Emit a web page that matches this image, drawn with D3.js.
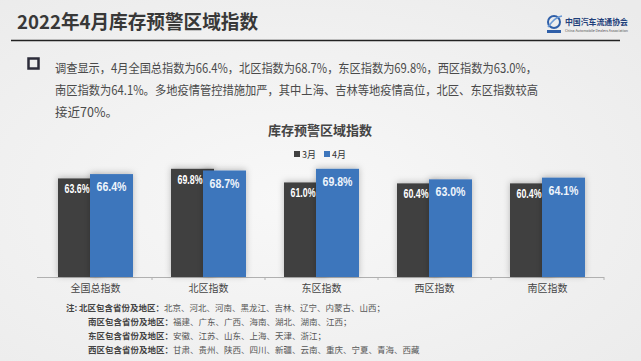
<!DOCTYPE html>
<html>
<head>
<meta charset="utf-8">
<script src="https://cdn.jsdelivr.net/npm/d3@7"></script>
<style>
  body { margin: 0; background: #f2f2f2; }
  svg { display: block; font-family: "Noto Sans CJK SC", "Noto Sans", sans-serif; }
</style>
</head>
<body>
<div id="container"></div>
<script>
const regions = ["全国总指数", "北区指数", "东区指数", "西区指数", "南区指数"];
const march = [63.6, 69.8, 61.0, 60.4, 60.4];
const april = [66.4, 68.7, 69.8, 63.0, 64.1];
const seriesNames = ["3月", "4月"];
const seriesColors = ["#414141", "#3e76bc"];

const introLines = [
  "调查显示，4月全国总指数为66.4%，北区指数为68.7%，东区指数为69.8%，西区指数为63.0%，",
  "南区指数为64.1%。多地疫情管控措施加严，其中上海、吉林等地疫情高位，北区、东区指数较高",
  "接近70%。"
];
const notes = [
  ["北区包含省份及地区：", "北京、河北、河南、黑龙江、吉林、辽宁、内蒙古、山西；"],
  ["南区包含省份及地区：", "福建、广东、广西、海南、湖北、湖南、江西；"],
  ["东区包含省份及地区：", "安徽、江苏、山东、上海、天津、浙江；"],
  ["西区包含省份及地区：", "甘肃、贵州、陕西、四川、新疆、云南、重庆、宁夏、青海、西藏"]
];

const w = 641;
const h = 361;
const svg = d3.select("#container")
  .append("svg")
  .attr("width", w)
  .attr("height", h);

// background with soft gradient
const defs = svg.append("defs");
const bg = defs.append("radialGradient").attr("id", "bg")
  .attr("cx", "45%").attr("cy", "55%").attr("r", "75%");
bg.append("stop").attr("offset", "0%").attr("stop-color", "#f8f8f8");
bg.append("stop").attr("offset", "100%").attr("stop-color", "#ebebeb");
svg.append("rect").attr("width", w).attr("height", h).attr("fill", "url(#bg)");

const shadow = defs.append("filter").attr("id", "shadow")
  .attr("x", "-30%").attr("y", "-30%").attr("width", "160%").attr("height", "160%");
shadow.append("feDropShadow").attr("dx", 0).attr("dy", -1)
  .attr("stdDeviation", 3).attr("flood-color", "#000").attr("flood-opacity", 0.25);

// header
svg.append("text")
  .attr("x", 17).attr("y", 29)
  .attr("font-size", 19).attr("font-weight", "bold").attr("fill", "#383838")
  .attr("textLength", 241).attr("lengthAdjust", "spacingAndGlyphs")
  .text("2022年4月库存预警区域指数");
svg.append("line")
  .attr("x1", 11).attr("x2", 620).attr("y1", 40.5).attr("y2", 40.5)
  .attr("stroke", "#222").attr("stroke-width", 1.5);

// logo
const logo = svg.append("g").attr("transform", "translate(546,15)");
logo.append("ellipse").attr("cx", 8).attr("cy", 7).attr("rx", 6).attr("ry", 6)
  .attr("fill", "none").attr("stroke", "#2f5fa8").attr("stroke-width", 2);
logo.append("path").attr("d", "M2,12 Q9,2 16,1").attr("fill", "none")
  .attr("stroke", "#6b9ad6").attr("stroke-width", 1.5);
logo.append("rect").attr("x", 1).attr("y", 15).attr("width", 14).attr("height", 3).attr("fill", "#2f5fa8");
logo.append("text").attr("x", 19).attr("y", 10)
  .attr("font-size", 8.5).attr("font-weight", "bold").attr("fill", "#1f3f7a")
  .attr("textLength", 63).attr("lengthAdjust", "spacingAndGlyphs")
  .text("中国汽车流通协会");
logo.append("text").attr("x", 19).attr("y", 17)
  .attr("font-size", 3.6).attr("fill", "#555")
  .attr("textLength", 63).attr("lengthAdjust", "spacingAndGlyphs")
  .text("China Automobile Dealers Association");

// intro paragraph
svg.append("rect")
  .attr("x", 28.5).attr("y", 58.5).attr("width", 10).attr("height", 10)
  .attr("fill", "none").attr("stroke", "#2c2c3a").attr("stroke-width", 2.5);
const introLen = [482, 483, null];
svg.append("g").selectAll("text")
  .data(introLines)
  .enter()
  .append("text")
  .attr("x", 55)
  .attr("y", (d, i) => 73 + i * 22)
  .attr("font-size", 12.5).attr("fill", "#4a4a4a")
  .each(function (d, i) {
    if (introLen[i]) d3.select(this).attr("textLength", introLen[i]).attr("lengthAdjust", "spacingAndGlyphs");
  })
  .text((d) => d);

// chart title & legend
svg.append("text")
  .attr("x", 320).attr("y", 135).attr("text-anchor", "middle")
  .attr("font-size", 13).attr("font-weight", "bold").attr("fill", "#444")
  .text("库存预警区域指数");

const legend = svg.append("g").selectAll("g")
  .data(seriesNames)
  .enter()
  .append("g")
  .attr("transform", (d, i) => "translate(" + (294 + i * 30) + ",150)");
legend.append("rect").attr("width", 6).attr("height", 6).attr("y", 1)
  .attr("fill", (d, i) => seriesColors[i]);
legend.append("text").attr("x", 8).attr("y", 8)
  .attr("font-size", 9).attr("fill", "#333").text((d) => d);

// scales
const xScale = d3.scaleBand()
  .domain(regions)
  .range([39, 604]);

const yScale = d3.scaleLinear()
  .domain([0, 80])
  .range([277, 153]);

const barW = 43;
const overlap = 11;
const groupW = barW * 2 - overlap;

const xAxis = d3.axisBottom(xScale).tickSize(0).tickPadding(8);
const axisG = svg.append("g")
  .attr("transform", "translate(0, 277)")
  .call(xAxis);
axisG.select(".domain").attr("stroke", "#b0b0b0").attr("d", "M37,0.5H604");
axisG.selectAll(".tick text")
  .attr("font-size", 10).attr("fill", "#444")
  .attr("font-family", "Noto Sans CJK SC");
// small separators between categories
svg.append("g").selectAll("line")
  .data(regions.slice(1).concat([null]))
  .enter()
  .append("line")
  .attr("x1", (d) => d ? xScale(d) : 604).attr("x2", (d) => d ? xScale(d) : 604)
  .attr("y1", 277).attr("y2", 280)
  .attr("stroke", "#b0b0b0");

const series = [march, april];
series.forEach(function (vals, s) {
  const g = svg.append("g");
  g.selectAll("rect")
    .data(vals)
    .enter()
    .append("rect")
    .attr("x", (d, i) => xScale(regions[i]) + (xScale.bandwidth() - groupW) / 2 + s * (barW - overlap))
    .attr("y", (d) => yScale(d))
    .attr("width", barW)
    .attr("height", (d) => 277 - yScale(d))
    .attr("fill", seriesColors[s])
    .attr("filter", "url(#shadow)");
});
series.forEach(function (vals, s) {
  svg.append("g").selectAll("text")
    .data(vals)
    .enter()
    .append("text")
    .attr("x", (d, i) => xScale(regions[i]) + (xScale.bandwidth() - groupW) / 2 + s * (barW - overlap) + barW / 2 - (s === 0 ? 15 : 15))
    .attr("y", (d) => yScale(d) + (s === 0 ? 15 : 17))
    .attr("font-family", "Liberation Sans, Arial, sans-serif")
    .attr("font-weight", "bold")
    .attr("font-size", s === 0 ? 12 : 13.5)
    .attr("textLength", s === 0 ? 25 : 30)
    .attr("lengthAdjust", "spacingAndGlyphs")
    .attr("fill", s === 0 ? "#fff" : "#eef4fb")
    .text((d) => d.toFixed(1) + "%");
});

// notes
svg.append("text")
  .attr("x", 66).attr("y", 311)
  .attr("font-size", 8.5).attr("font-weight", "bold").attr("fill", "#444")
  .text("注:");
const noteG = svg.append("g").selectAll("text")
  .data(notes)
  .enter()
  .append("text")
  .attr("x", (d, i) => i === 0 ? 79 : 88)
  .attr("y", (d, i) => 311 + i * 14)
  .attr("font-size", 8.5).attr("fill", "#555");
noteG.append("tspan").attr("font-weight", "bold").attr("fill", "#444").text((d) => d[0]);
noteG.append("tspan").text((d) => d[1]);
</script>
</body>
</html>
